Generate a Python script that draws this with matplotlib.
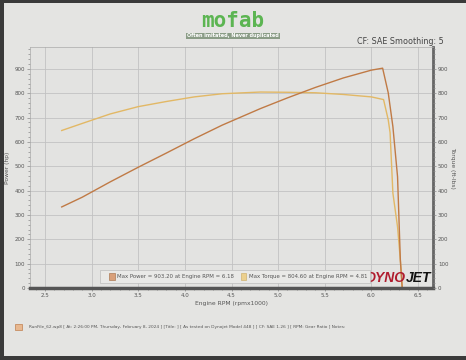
import matplotlib
matplotlib.use("Agg")
import matplotlib.pyplot as plt
from matplotlib.patches import Rectangle
from matplotlib.ticker import MultipleLocator

# Data (rpm x1000)
power_rpm = [2.68, 2.90, 3.20, 3.50, 3.80, 4.10, 4.40, 4.81, 5.10, 5.40, 5.70, 6.00, 6.12, 6.18, 6.23, 6.28, 6.31, 6.33]
power_hp = [333, 373, 436, 496, 554, 613, 669, 737, 781, 824, 863, 895, 903, 802, 663, 457, 115, 0]
torque_rpm = [2.68, 2.90, 3.20, 3.50, 3.80, 4.10, 4.40, 4.81, 5.10, 5.40, 5.70, 6.00, 6.13, 6.18, 6.20, 6.23, 6.28, 6.31, 6.33]
torque_ftlb = [647, 676, 715, 745, 766, 785, 798, 805, 804, 802, 795, 785, 774, 691, 638, 390, 251, 115, 0]

legend_power = "Max Power = 903.20 at Engine RPM = 6.18"
legend_torque = "Max Torque = 804.60 at Engine RPM = 4.81"
footer = ("RunFile_62.wp8 [ At: 2:26:00 PM, Thursday, February 8, 2024 ] [Title: ] "
          "[ As tested on Dynojet Model 448 ] [ CF: SAE 1.26 ] [ RPM: Gear Ratio ] Notes:")

c_power = "#c07a45"
c_torque = "#e2b865"
paper = "#e4e4e2"
txt = "#555555"

fig = plt.figure(figsize=(4.66, 3.6), dpi=100)
fig.patch.set_facecolor("#3a3a3a")
fig.add_artist(Rectangle((4/466, 4/360), 1, 353/360, transform=fig.transFigure,
                         facecolor=paper, edgecolor="none", zorder=0))

ax = fig.add_axes([30/466, 72/360, 403/466, 241/360])
ax.set_facecolor("#e3e3e1")
ax.set_xlim(2.34, 6.66)
ax.set_ylim(0, 990)

ax.plot(torque_rpm, torque_ftlb, color=c_torque, lw=1.0)
ax.plot(power_rpm, power_hp, color=c_power, lw=1.0)

ax.xaxis.set_major_locator(MultipleLocator(0.5))
ax.xaxis.set_minor_locator(MultipleLocator(0.1))
ax.yaxis.set_major_locator(MultipleLocator(100))
ax.yaxis.set_minor_locator(MultipleLocator(20))
ax.grid(True, which="major", color="#c2c2c2", lw=0.6)
ax.set_axisbelow(True)
ax.tick_params(which="both", labelsize=4.0, colors="#888888", labelcolor=txt,
               direction="out", length=2, width=0.5, pad=1.5)
ax.tick_params(which="minor", length=1.2)
ax.set_yticks(range(0, 1000, 100))

for s in ["top", "left"]:
    ax.spines[s].set_color("#aaaaaa")
    ax.spines[s].set_linewidth(0.5)
ax.spines["bottom"].set_color("#555555")
ax.spines["bottom"].set_linewidth(2.5)
ax.spines["right"].set_color("#666666")
ax.spines["right"].set_linewidth(2.0)

ax2 = ax.twinx()
ax2.set_ylim(0, 990)
ax2.set_yticks(range(0, 1000, 100))
ax2.yaxis.set_minor_locator(MultipleLocator(20))
ax2.tick_params(which="both", labelsize=4.0, colors="#888888", labelcolor=txt,
                direction="out", length=2, width=0.5, pad=1.5)
ax2.tick_params(which="minor", length=1.2)
for s in ax2.spines.values():
    s.set_visible(False)

ax.set_ylabel("Power (hp)", fontsize=4.3, color=txt, labelpad=3)
ax2.set_ylabel("Torque (ft-lbs)", fontsize=4.3, color=txt, rotation=-90, labelpad=5)
ax.set_xlabel("Engine RPM (rpmx1000)", fontsize=4.3, color=txt, labelpad=2)

# in-plot legend box
ax.add_patch(Rectangle((3.09, 20), 2.89, 54, facecolor="#e9e9e7", edgecolor="#bdbdbd",
                       lw=0.5, zorder=4))
ax.add_patch(Rectangle((3.19, 34), 0.06, 26, facecolor="#d9a07a", edgecolor="#a06a40",
                       lw=0.4, zorder=5))
ax.add_patch(Rectangle((4.60, 34), 0.06, 26, facecolor="#ecd08e", edgecolor="#c9a860",
                       lw=0.4, zorder=5))
ax.text(3.27, 47, legend_power, fontsize=3.9, color=txt, va="center", zorder=6)
ax.text(4.69, 47, legend_torque, fontsize=3.9, color=txt, va="center", zorder=6)

# DYNOJET logo (red "DYNO", black "JET")
t_jet = ax.text(6.64, 40, "JET", fontsize=10, fontweight="bold", fontstyle="italic",
                color="#111111", ha="right", va="center", zorder=3, family="Liberation Sans")
fig.canvas.draw()
bb = t_jet.get_window_extent()
x_left = ax.transData.inverted().transform((bb.x0, bb.y0))[0]
ax.text(x_left, 40, "DYNO", fontsize=10, fontweight="bold", fontstyle="italic",
        color="#b01c2e", ha="right", va="center", zorder=3, family="Liberation Sans")

# header
fig.text(0.5, 1 - 21/360, "mofab", fontsize=15, fontweight="bold", color="#5cb552",
         ha="center", va="center", family="DejaVu Sans Mono")
fig.text(0.5, 1 - 36/360, "Often imitated, Never duplicated", fontsize=3.5,
         color="white", ha="center", va="center", fontweight="bold",
         bbox=dict(boxstyle="square,pad=0.15", fc="#8a9c86", ec="none"))
fig.text(444/466, 1 - 41/360, "CF: SAE Smoothing: 5", fontsize=5.8, color="#444444",
         ha="right", va="center")

# footer
fig.add_artist(Rectangle((15/466, 1 - 330/360), 7/466, 6/360, transform=fig.transFigure,
                         facecolor="#e8b890", edgecolor="#c08050", lw=0.5))
fig.text(29/466, 1 - 327/360, footer, fontsize=3.05, color="#555555", ha="left", va="center")

fig.savefig("out.png", dpi=100, facecolor=fig.get_facecolor())
